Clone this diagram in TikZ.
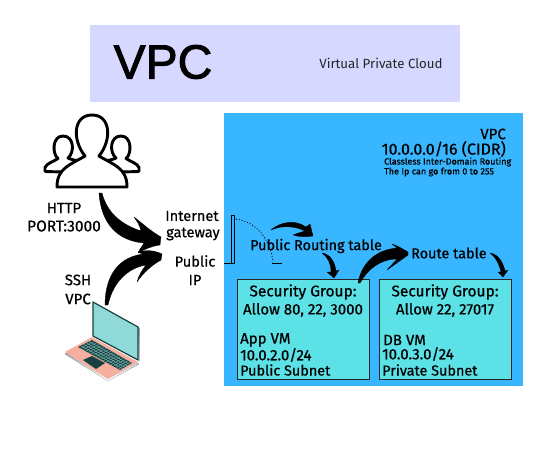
\documentclass[tikz,border=0pt]{standalone}
\usepackage{fontspec}
\setmainfont{Fira Sans}
\newfontfamily\lab{Fira Sans}[FakeBold=0.6]
\newfontfamily\ttl{Liberation Sans}[FakeBold=2]
\usetikzlibrary{calc}
\definecolor{panelblue}{HTML}{38B6FF}
\definecolor{lav}{HTML}{D6D8FF}
\definecolor{cyanbox}{HTML}{5CE1E6}
\definecolor{scr}{HTML}{8FDAD8}
\definecolor{darkteal}{HTML}{17403F}
\definecolor{salmon}{HTML}{F6AF9F}
\definecolor{shade}{HTML}{B58F9A}
\newcommand{\fsz}[1]{\lab\fontsize{#1}{#1}\selectfont}
\tikzset{
  txt/.style={font=\fsz{15},text=black,inner sep=0pt},
  txl/.style={txt,anchor=west},
  sgbox/.style={draw=black!85,line width=1pt,fill=cyanbox},
  swoosh/.style={fill=black,draw=black,line width=.3pt,line join=round},
  icon/.style={draw=black,line width=2.9pt,line join=round,line cap=round,fill=white},
}
\begin{document}
\begin{tikzpicture}[x=1pt,y=-1pt]
\useasboundingbox (0,0) rectangle (555,461);
\fill[white] (0,0) rectangle (555,461);
\foreach \i in {0,...,57}{\foreach \j in {2,...,47}{
  \fill[black!7] (\i*9.6+4,\j*9.6) circle (.55);}}
% title
\node[fill=lav,minimum width=370pt,minimum height=77pt,inner sep=0pt,anchor=north west] (titlebar) at (90,25) {};
\node[font=\ttl\fontsize{48}{50}\selectfont,inner sep=0pt] (vpctitle) at (163,62) {VPC};
\node[font=\fontsize{13.300}{14}\selectfont,inner sep=0pt,text=black!85] (vpcsub) at (381,63) {Virtual Private Cloud};
% panel
\node[fill=panelblue,minimum width=299pt,minimum height=273pt,inner sep=0pt,anchor=north west] (panel) at (224,113) {};
\node[sgbox,minimum width=132pt,minimum height=100pt,inner sep=0pt,anchor=north west] (sg1) at (237,279) {};
\node[sgbox,minimum width=132pt,minimum height=100pt,inner sep=0pt,anchor=north west] (sg2) at (379,279) {};
% panel texts
\node[txt,anchor=east] (p1) at (506,134) {VPC};
\node[txt,anchor=east,font=\fsz{16}] (p2) at (506,149) {10.0.0.0/16 (CIDR)};
\node[txl,font=\fsz{9}] (p3) at (384,162) {Classless Inter-Domain Routing};
\node[txl,font=\fsz{9}] (p4) at (384,172) {The Ip can go from 0 to 255};
\node[txl,font=\fsz{14.400}] (prt) at (250,246) {Public Routing table};
\node[txl,font=\fsz{14.400}] (rt) at (411,253) {Route table};
\node[txt,font=\fsz{15.500}] (s1a) at (303,292) {Security Group:};
\node[txt] (s1b) at (303,310) {Allow 80, 22, 3000};
\node[txt,font=\fsz{15.500}] (s2a) at (445,292) {Security Group:};
\node[txt] (s2b) at (445,310) {Allow 22, 27017};
\node[txl] (a1) at (240,340) {App VM};
\node[txl,font=\fsz{15}] (a2) at (240,355) {10.0.2.0/24};
\node[txl,font=\fsz{14.400}] (a3) at (240,370) {Public Subnet};
\node[txl] (d1) at (383,340) {DB VM};
\node[txl,font=\fsz{15}] (d2) at (382,354) {10.0.3.0/24};
\node[txl,font=\fsz{14.400}] (d3) at (382,370) {Private Subnet};
% outside texts
\node[txt] (h1) at (64,208) {HTTP};
\node[txt,font=\fsz{15.500}] (h2) at (64,226) {PORT:3000};
\node[txt] (v1) at (78,280) {SSH};
\node[txt] (v2) at (78,299) {VPC};
\node[txt,font=\fsz{14.600}] (g1) at (192,216) {Internet};
\node[txt,font=\fsz{14.600}] (g2) at (193,234) {gateway};
\node[txt,font=\fsz{14.600}] (i1) at (195,261) {Public};
\node[txt,font=\fsz{14.600}] (i2) at (195,280) {IP};
% gateway bar and dotted arc
\draw[black,line width=1pt,line join=round] (224,263) -- (231,263) -- (231,215.500) -- (234,215.500) -- (234,263) -- (231,263);
\draw[black,line width=.9pt,dotted] (236,219) .. controls (256,222) and (270,238) .. (273,262);
\draw[black,line width=1pt] (272,263) -- (282,263);
% people
\draw[icon] (63,172) -- (45,171.500) -- (45,167.500) .. controls (47,163) and (53,162) .. (58,158.500) .. controls (52,154) and (52,136) .. (63,136) .. controls (74,136) and (75,152) .. (68,158) .. controls (72,160) and (80,162) .. (85,160);
\draw[icon] (121,172) -- (139,171.500) -- (139,167.500) .. controls (137,163) and (131,162) .. (126,158.500) .. controls (132,154) and (132,136) .. (121,136) .. controls (110,136) and (109,152) .. (116,158) .. controls (112,160) and (104,162) .. (99,160);
\draw[icon] (57,187) .. controls (57,168) and (70,165) .. (85,156) .. controls (72,140) and (73,115) .. (92,115) .. controls (111,115) and (112,140) .. (99,156) .. controls (114,165) and (127,168) .. (127,187) -- cycle;
% laptop
\coordinate (ka) at (78,347); \coordinate (kb) at (92,340); \coordinate (kc) at (132,363); \coordinate (kd) at (120,370);
\fill[shade] (65,354) -- (92,339) -- (139,364) -- (108,381) -- cycle;
\fill[salmon] (65,352) -- (92,337) -- (138,362) -- (108,379) -- cycle;
\fill[shade] (93,303) -- (139.500,328) -- (139.500,361) -- (138,361) -- (138,328) -- cycle;
\draw[darkteal,line width=1.2pt,fill=scr,line join=round] (93,302) -- (138,327) -- (138,360) -- (93,336) -- cycle;
\fill[darkteal] (ka) -- (kb) -- (kc) -- (kd) -- cycle;
\foreach \t in {.2,.4,.6,.8}{\draw[scr!80!black,line width=.55pt] ($(ka)!\t!(kb)$) -- ($(kd)!\t!(kc)$);}
\foreach \t in {.06,.12,...,.96}{\draw[scr!80!black,line width=.45pt] ($(ka)!\t!(kd)$) -- ($(kb)!\t!(kc)$);}
\fill[darkteal] (83,360) -- (92,356) -- (105,363) -- (96,369) -- cycle;
% big arrows
\path[swoosh] (102,193) .. controls (107,212) and (120,224) .. (141,231) .. controls (140,226) and (137,221) .. (134,217) .. controls (143,224) and (152,232) .. (161,237) -- (160,245) .. controls (152,246) and (145,249) .. (138,253) .. controls (140,249) and (142,246) .. (144,243) .. controls (118,241) and (101,224) .. (99,193) -- cycle;
\path[swoosh] (105,305) .. controls (105,283) and (113,258) .. (143,254) .. controls (142,254) and (140,253) .. (138,252) .. controls (146,250) and (154,250) .. (162,254) -- (161,260) .. controls (152,265) and (143,273) .. (137,282) .. controls (139,275) and (142,270) .. (146,265) .. controls (128,268) and (113,282) .. (108,305) -- cycle;
\path[swoosh] (271,230) .. controls (280,222) and (295,219) .. (306,227) -- (310,224) .. controls (311,228) and (312,232) .. (313,236) .. controls (306,237) and (299,237) .. (293,235) .. controls (298,233) and (302,232) .. (305,231) .. controls (295,226) and (282,225) .. (271,230) -- cycle;
\path[swoosh] (322,253) .. controls (330,254) and (335,262) .. (336,271) -- (339,270) -- (334,278) -- (327,272) -- (331,272) .. controls (331,264) and (328,257) .. (322,253) -- cycle;
\path[swoosh] (358,283) .. controls (361,266) and (373,250) .. (397,248) -- (392,244) .. controls (398,246) and (403,249) .. (408,252) -- (408,255) .. controls (401,260) and (394,265) .. (387,270) .. controls (390,266) and (394,263) .. (397,259) .. controls (380,259) and (367,270) .. (360,283) -- cycle;
\path[swoosh] (490,253) .. controls (498,254) and (503,262) .. (505,271) -- (508,270) -- (503,277) -- (498,272) -- (501,272) .. controls (499,264) and (496,257) .. (490,253) -- cycle;
\end{tikzpicture}
\end{document}
